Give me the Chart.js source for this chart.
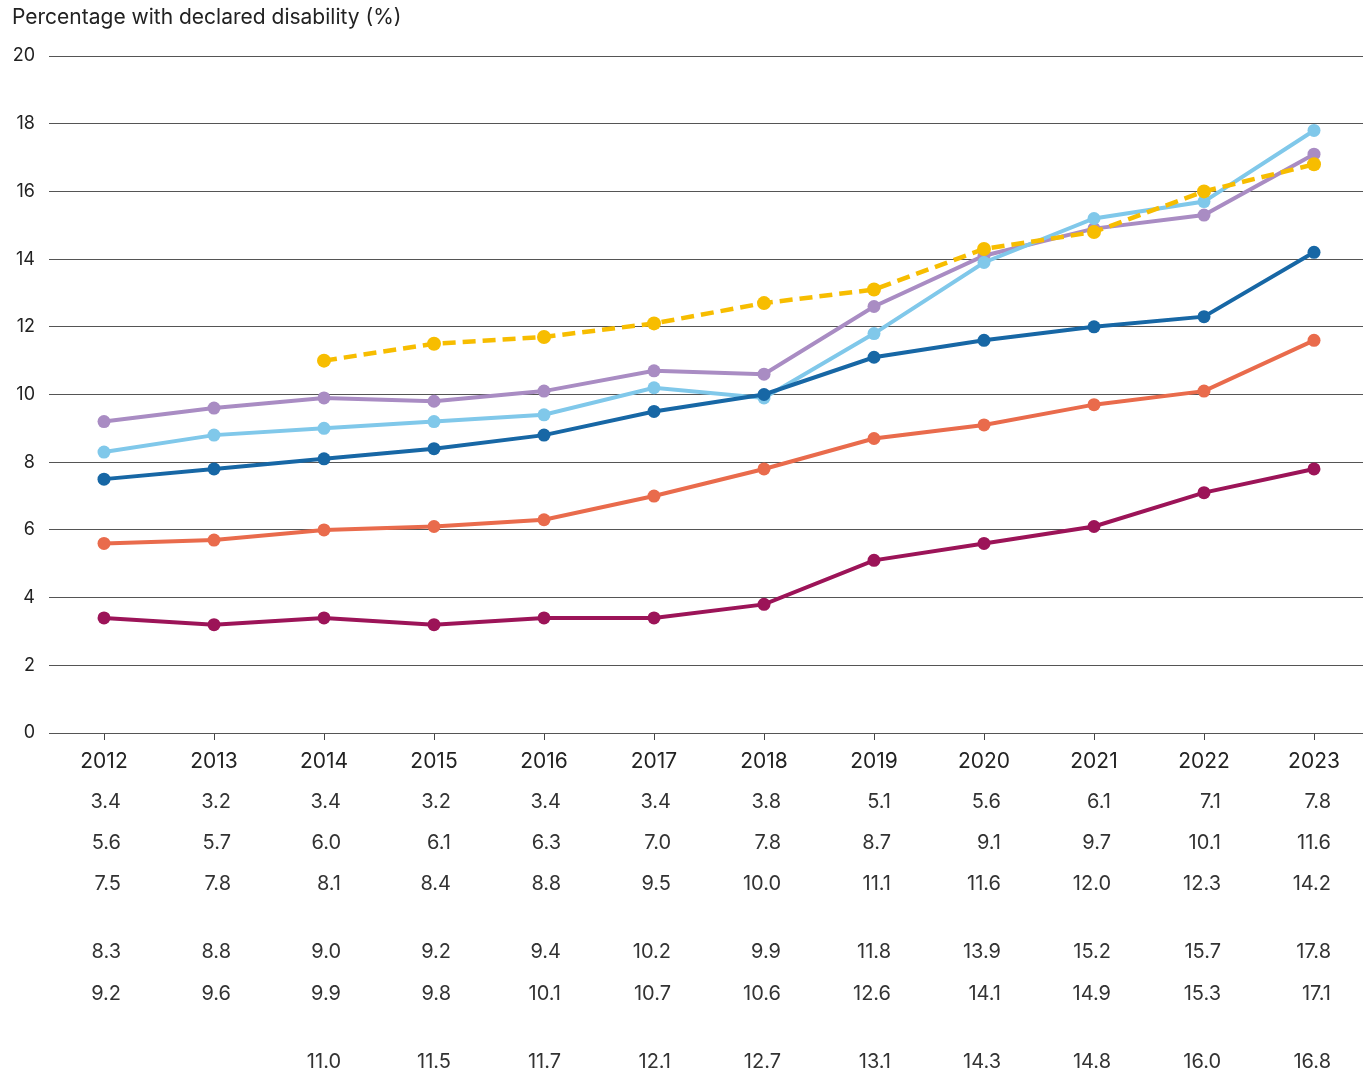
<!DOCTYPE html>
<html>
<head>
<meta charset="utf-8">
<script src="https://cdn.jsdelivr.net/npm/chart.js@4.4.1/dist/chart.umd.min.js"></script>
<style>
  html, body { margin: 0; padding: 0; background: #fff; overflow: hidden; }
  canvas { display: block; }
</style>
</head>
<body>
<canvas id="chart" width="1376" height="1079"></canvas>
<script>
// Datos
const years = ['2012', '2013', '2014', '2015', '2016', '2017', '2018', '2019', '2020', '2021', '2022', '2023'];
const serieMorada = [3.4, 3.2, 3.4, 3.2, 3.4, 3.4, 3.8, 5.1, 5.6, 6.1, 7.1, 7.8];
const serieNaranja = [5.6, 5.7, 6.0, 6.1, 6.3, 7.0, 7.8, 8.7, 9.1, 9.7, 10.1, 11.6];
const serieAzul = [7.5, 7.8, 8.1, 8.4, 8.8, 9.5, 10.0, 11.1, 11.6, 12.0, 12.3, 14.2];
const serieCeleste = [8.3, 8.8, 9.0, 9.2, 9.4, 10.2, 9.9, 11.8, 13.9, 15.2, 15.7, 17.8];
const serieLila = [9.2, 9.6, 9.9, 9.8, 10.1, 10.7, 10.6, 12.6, 14.1, 14.9, 15.3, 17.1];
const serieAmarilla = [null, null, 11.0, 11.5, 11.7, 12.1, 12.7, 13.1, 14.3, 14.8, 16.0, 16.8];
const yTicks = [0, 2, 4, 6, 8, 10, 12, 14, 16, 18, 20];
const titulo = 'Percentage with declared disability (%)';

const FUENTE = 'Inter, "Liberation Sans", Arial, sans-serif';

// filas de la tabla inferior (posición vertical en px)
const filasTabla = [
  { data: serieMorada, y: 802 },
  { data: serieNaranja, y: 843 },
  { data: serieAzul, y: 884 },
  { data: serieCeleste, y: 952 },
  { data: serieLila, y: 994 },
  { data: serieAmarilla, y: 1062 }
];

function serie(data, color, dashed, order) {
  return {
    data: data,
    borderColor: color,
    backgroundColor: color,
    borderWidth: dashed ? 4.5 : 4,
    borderDash: dashed ? [13, 7] : [],
    pointRadius: dashed ? 7 : 6.5,
    pointHoverRadius: 6.5,
    pointBorderWidth: 0,
    tension: 0,
    spanGaps: false,
    order: order
  };
}

const tablaPlugin = {
  id: 'tabla',
  afterDraw(chart) {
    const ctx = chart.ctx;
    const x = chart.scales.x;
    ctx.save();
    // título
    ctx.font = '21px ' + FUENTE;
    ctx.fillStyle = '#222';
    ctx.textAlign = 'left';
    ctx.textBaseline = 'middle';
    ctx.fillText(titulo, 12, 18);
    // tabla de valores
    ctx.font = '20px ' + FUENTE;
    ctx.fillStyle = '#333';
    ctx.textAlign = 'right';
    filasTabla.forEach(function(fila) {
      fila.data.forEach(function(v, i) {
        if (v === null) return;
        ctx.fillText(v.toFixed(1), x.getPixelForValue(i) + 17, fila.y);
      });
    });
    ctx.restore();
  }
};

const ctx = document.getElementById('chart').getContext('2d');
new Chart(ctx, {
  type: 'line',
  data: {
    labels: years,
    datasets: [
      serie(serieMorada, '#9c1458', false, 2),
      serie(serieNaranja, '#e96b4c', false, 2),
      serie(serieAzul, '#1767a5', false, 1),
      serie(serieCeleste, '#80c8ea', false, 2),
      serie(serieLila, '#a98cc3', false, 2),
      serie(serieAmarilla, '#f7bd00', true, 0)
    ]
  },
  options: {
    responsive: false,
    animation: false,
    layout: { padding: { top: 56, right: 0, bottom: 0, left: 0 } },
    plugins: {
      legend: { display: false },
      tooltip: { enabled: false },
      title: { display: false }
    },
    scales: {
      x: {
        offset: true,
        border: { display: false },
        grid: { offset: false, drawOnChartArea: false, drawTicks: true, tickLength: 7, color: '#444', lineWidth: 1 },
        ticks: {
          color: '#222',
          padding: 9,
          font: { family: FUENTE, size: 21 },
          maxRotation: 0
        },
        afterFit(scale) { scale.height = 346; }
      },
      y: {
        min: 0,
        max: 20,
        border: { display: false },
        grid: { color: '#555', lineWidth: 1, drawTicks: false },
        afterBuildTicks(scale) { scale.ticks = yTicks.map(v => ({ value: v })); },
        ticks: {
          color: '#222',
          padding: 14,
          font: { family: FUENTE, size: 18 }
        },
        afterFit(scale) { scale.width = 49; }
      }
    }
  },
  plugins: [tablaPlugin]
});
</script>
</body>
</html>
